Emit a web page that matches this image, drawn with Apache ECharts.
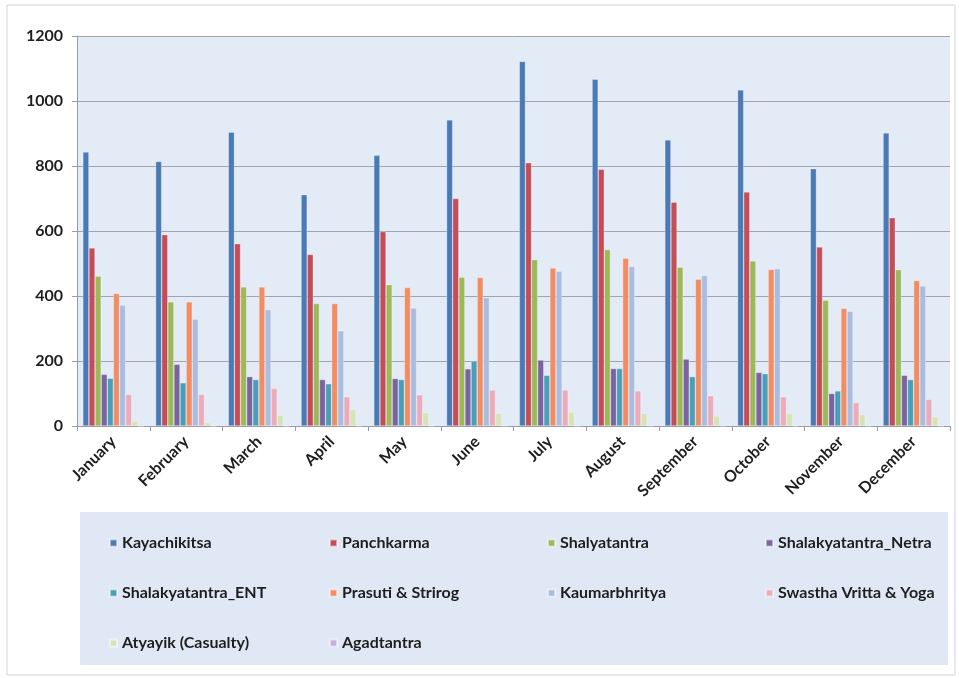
<!DOCTYPE html>
<html><head><meta charset="utf-8">
<script src="https://cdn.jsdelivr.net/npm/echarts@6/dist/echarts.min.js"></script>
<style>html,body{margin:0;padding:0;background:#fff}#c{width:959px;height:678px}</style>
</head><body><div id="c"></div>
<script>
const months = ['January','February','March','April','May','June','July','August','September','October','November','December'];
const kayachikitsa = [843,814,904,712,833,942,1122,1067,880,1034,792,902];
const panchkarma = [548,589,561,528,598,700,810,790,689,720,551,641];
const shalyatantra = [461,382,428,377,435,458,512,543,489,508,387,481];
const shalakyaNetra = [159,190,152,143,146,176,203,177,206,165,100,156];
const shalakyaENT = [147,133,143,130,143,200,156,177,152,161,108,143];
const prasuti = [408,382,428,377,426,457,486,516,452,482,362,448];
const kaumarbhritya = [372,329,358,293,363,395,476,491,463,484,353,431];
const swastha = [97,97,116,90,96,111,111,108,93,90,72,82];
const atyayik = [15,10,34,51,41,39,43,39,31,38,36,29];
const agadtantra = [0,0,0,0,0,0,0,0,0,0,0,0];
const yTicks = [0,200,400,600,800,1000,1200];

const seriesDefs = [
  ['Kayachikitsa', kayachikitsa, '#4a7ab5'],
  ['Panchkarma', panchkarma, '#c44d58'],
  ['Shalyatantra', shalyatantra, '#9cb95a'],
  ['Shalakyatantra_Netra', shalakyaNetra, '#7a64a0'],
  ['Shalakyatantra_ENT', shalakyaENT, '#4a9fb8'],
  ['Prasuti & Strirog', prasuti, '#f28c64'],
  ['Kaumarbhritya', kaumarbhritya, '#a9bde0'],
  ['Swastha Vritta & Yoga', swastha, '#ecabb9'],
  ['Atyayik (Casualty)', atyayik, '#d6e3b4'],
  ['Agadtantra', agadtantra, '#c3b3db']
];

const legendFont = {fontFamily:'Lato', fontWeight:'bold', fontSize:16, color:'#1e1e1e'};
const cols = [
  {left:104, data:['Kayachikitsa','Shalakyatantra_ENT','Atyayik (Casualty)']},
  {left:324, data:['Panchkarma','Prasuti & Strirog','Agadtantra']},
  {left:542, data:['Shalyatantra','Kaumarbhritya']},
  {left:760, data:['Shalakyatantra_Netra','Swastha Vritta & Yoga']}
];

const chart = echarts.init(document.getElementById('c'), null, {renderer:'canvas'});
chart.setOption({
  animation:false,
  backgroundColor:'#ffffff',
  graphic:[
    {type:'rect', shape:{x:7,y:5,width:948,height:670}, style:{fill:'none', stroke:'#cfd3da', lineWidth:1}, z:-10},
    {type:'rect', shape:{x:80,y:512,width:868,height:153}, style:{fill:'#dfe8f4', stroke:'none'}, z:-10}
  ],
  legend: cols.map(c => ({
    orient:'vertical', left:c.left, top:530, itemGap:34, itemWidth:7, itemHeight:7,
    icon:'rect', data:c.data, textStyle:legendFont, selectedMode:false
  })),
  grid:{left:77, right:9, top:36, bottom:252, show:true, backgroundColor:'#e3ebf6', borderColor:'#e3ebf6', borderWidth:0},
  xAxis:{
    type:'category', data:months,
    axisLine:{lineStyle:{color:'#9a9aa8'}},
    axisTick:{show:true, length:5, lineStyle:{color:'#9a9aa8'}},
    axisLabel:{rotate:45, fontFamily:'Lato', fontWeight:'bold', fontSize:16, color:'#1e1e1e', margin:13}
  },
  yAxis:{
    type:'value', min:0, max:1200, interval:200,
    axisLine:{show:true, lineStyle:{color:'#9a9aa8'}},
    axisTick:{show:true, length:5, lineStyle:{color:'#9a9aa8'}},
    splitLine:{lineStyle:{color:'#a3a3ad', width:1}},
    axisLabel:{fontFamily:'Lato', fontWeight:'bold', fontSize:16, color:'#1e1e1e', margin:14,
      formatter: v => yTicks.includes(v) ? String(v) : ''}
  },
  series: seriesDefs.map(([name, data, color]) => ({
    name, type:'bar', data, barGap:'0%', barCategoryGap:'16%',
    itemStyle:{color, borderColor:'rgba(255,255,255,0.5)', borderWidth:0.6}
  }))
});
</script></body></html>
